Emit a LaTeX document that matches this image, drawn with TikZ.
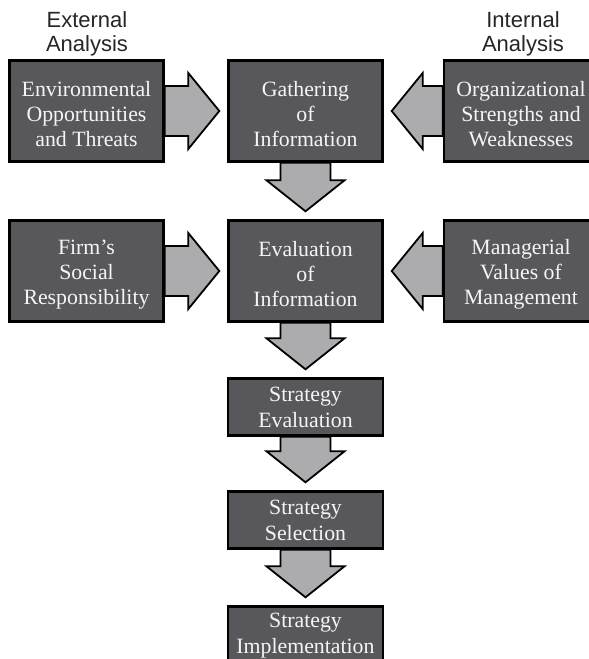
\documentclass[tikz,border=0pt]{standalone}
\usepackage{fontspec}
\setmainfont{Liberation Serif}
\newfontfamily\headfont{Liberation Sans}
\usetikzlibrary{calc}

\definecolor{boxfill}{RGB}{88,88,92}
\definecolor{arrowfill}{RGB}{172,172,174}
\definecolor{boxtext}{RGB}{245,245,245}

% block arrows between named boxes
\newcommand\fatright[2]{%
  \draw[blockarrow] let \p1=(#1.east), \p2=(#2.west) in
    (\x1,\y1+25pt) -- (\x2-39pt,\y1+25pt) -- (\x2-39pt,\y1+38pt) -- (\x2-8pt,\y1)
    -- (\x2-39pt,\y1-38pt) -- (\x2-39pt,\y1-25pt) -- (\x1,\y1-25pt) -- cycle;}
\newcommand\fatleft[2]{%
  \draw[blockarrow] let \p1=(#1.west), \p2=(#2.east) in
    (\x1,\y1+25pt) -- (\x2+39pt,\y1+25pt) -- (\x2+39pt,\y1+38pt) -- (\x2+8pt,\y1)
    -- (\x2+39pt,\y1-38pt) -- (\x2+39pt,\y1-25pt) -- (\x1,\y1-25pt) -- cycle;}
\newcommand\fatdown[2]{%
  \draw[blockarrow] let \p1=(#1.south), \p2=(#2.north) in
    (\x1-25pt,\y1) -- (\x1-25pt,\y2+39pt) -- (\x1-39pt,\y2+39pt) -- (\x1,\y2+8pt)
    -- (\x1+39pt,\y2+39pt) -- (\x1+25pt,\y2+39pt) -- (\x1+25pt,\y1) -- cycle;}

\begin{document}
\begin{tikzpicture}[x=1pt,y=-1pt,
  box/.style={draw=black, fill=boxfill, line width=2.4pt, inner sep=0pt},
  bigbox/.style={box, minimum width=154pt, minimum height=101pt},
  stratbox/.style={box, minimum width=155pt, minimum height=57pt},
  boxlabel/.style={text=boxtext, align=center, inner sep=0pt,
    font=\fontsize{21.8}{25}\selectfont},
  stratlabel/.style={boxlabel, font=\fontsize{21.8}{26}\selectfont},
  blockarrow/.style={draw=black, fill=arrowfill, line width=1.8pt, line join=miter},
  heading/.style={align=center, inner sep=0pt, text=black!85,
    font=\headfont\fontsize{22}{24}\selectfont}]

\clip (0,0) rectangle (589,659);
\fill[white] (0,0) rectangle (589,659);

% column headings
\node[heading] (ext) at (87,34) {External\\Analysis};
\node[heading] (int) at (523,34) {Internal\\Analysis};

% first row
\node[bigbox] (env)  at (86.5,111) {};
\node[bigbox] (gath) at (305.5,111) {};
\node[bigbox] (org)  at (521,111) {};

% second row
\node[bigbox] (firm) at (86.5,271) {};
\node[bigbox] (eval) at (305.5,271) {};
\node[bigbox] (mgr)  at (521,271) {};

% strategy chain
\node[stratbox] (seval) at (305.5,407) {};
\node[stratbox] (ssel)  at (305.5,520) {};
\node[stratbox] (simp)  at (305.5,635) {};

% box texts, set a little below the box centres
\node[boxlabel] (envt)  at ([yshift=-3.5pt]env.center)  {Environmental\\Opportunities\\and Threats};
\node[boxlabel] (gatht) at ([yshift=-3.5pt]gath.center) {Gathering\\of\\Information};
\node[boxlabel] (orgt)  at ([yshift=-3.5pt]org.center)  {Organizational\\Strengths and\\Weaknesses};
\node[boxlabel] (firmt) at ([yshift=-3.5pt]firm.center) {Firm's\\Social\\Responsibility};
\node[boxlabel] (evalt) at ([yshift=-3.5pt]eval.center) {Evaluation\\of\\Information};
\node[boxlabel] (mgrt)  at ([yshift=-3.5pt]mgr.center)  {Managerial\\Values of\\Management};
\node[stratlabel] (sevalt) at ([yshift=-0.5pt]seval.center) {Strategy\\Evaluation};
\node[stratlabel] (sselt)  at ([yshift=-0.5pt]ssel.center)  {Strategy\\Selection};
\node[stratlabel] (simpt)  at ([yshift=-0.5pt]simp.center)  {Strategy\\Implementation};

% connectors
\fatright{env}{gath}
\fatleft{org}{gath}
\fatdown{gath}{eval}
\fatright{firm}{eval}
\fatleft{mgr}{eval}
\fatdown{eval}{seval}
\fatdown{seval}{ssel}
\fatdown{ssel}{simp}
\end{tikzpicture}
\end{document}
